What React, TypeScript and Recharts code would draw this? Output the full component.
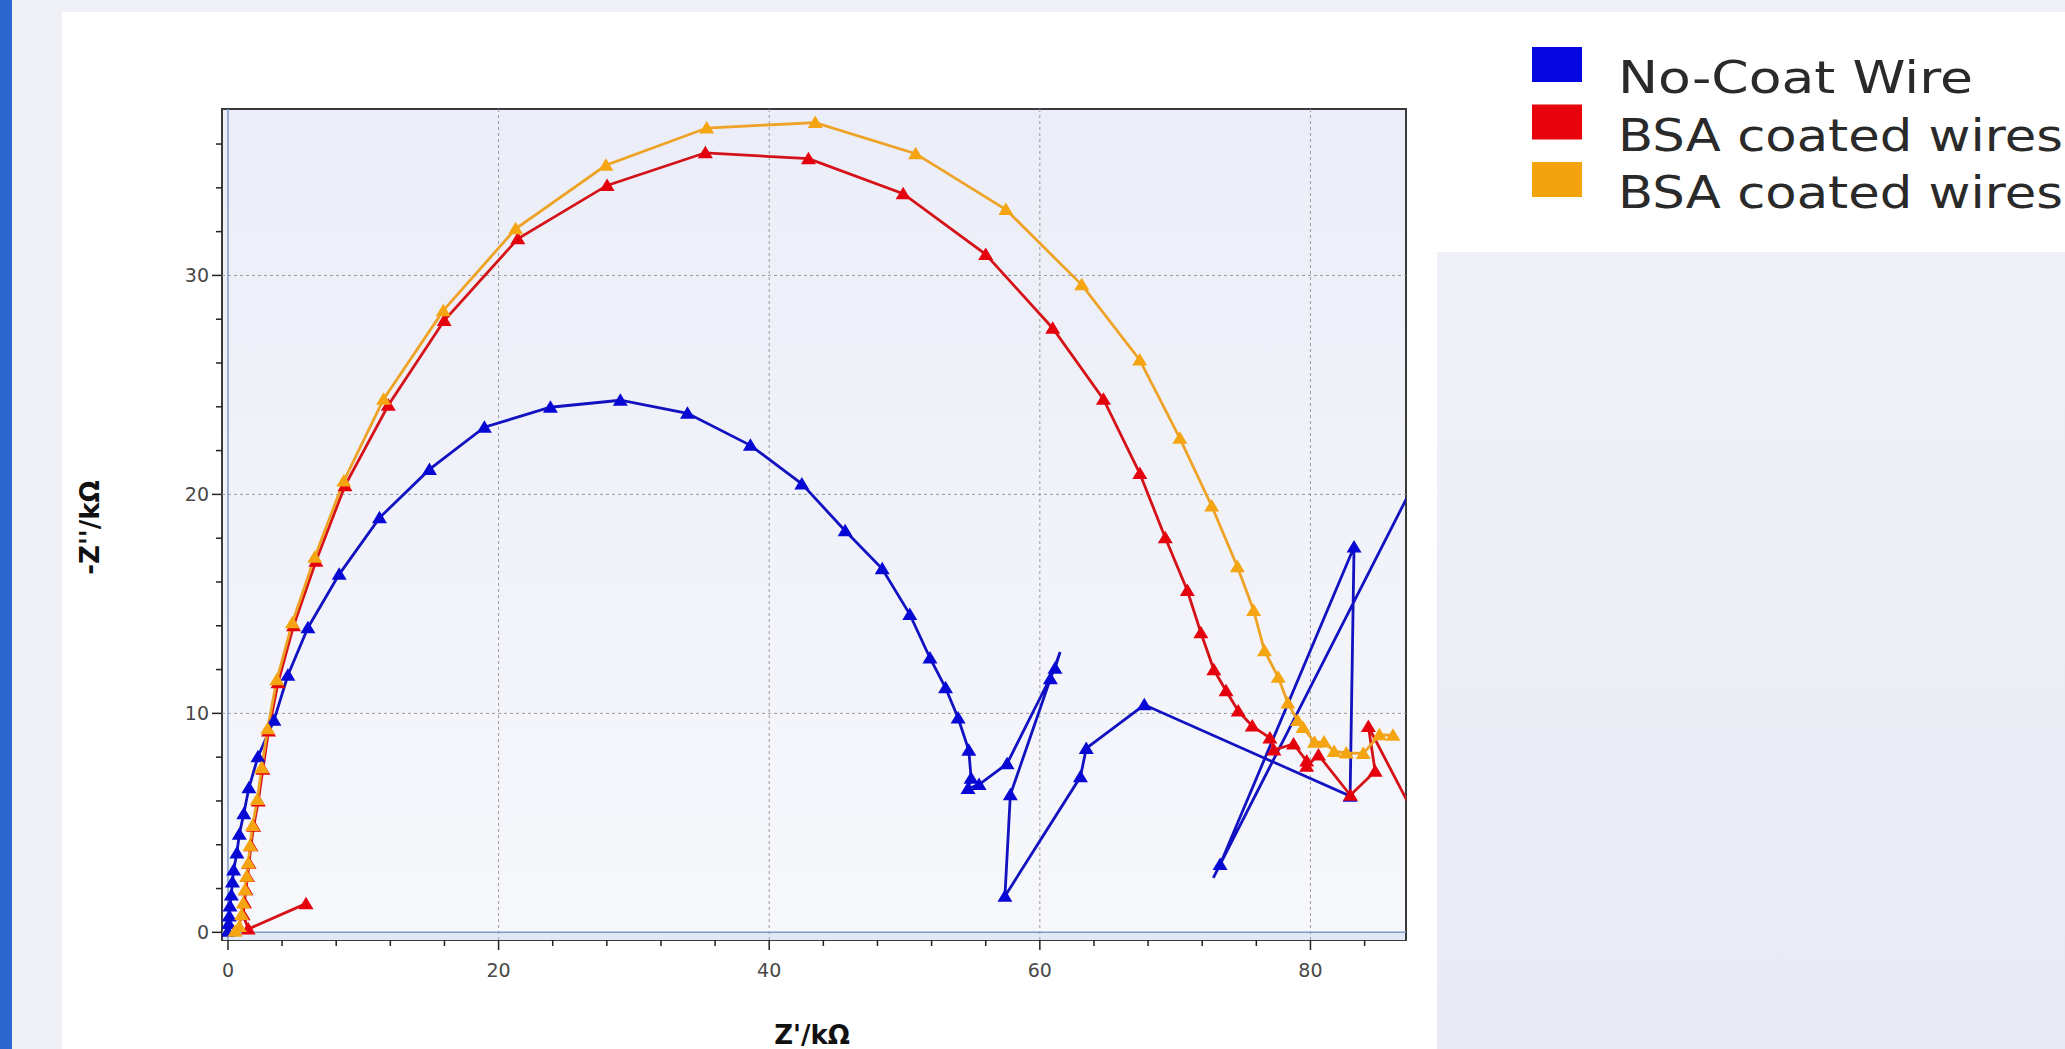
import { LineChart, Line, XAxis, YAxis, ReferenceLine, Legend, Label } from "recharts";

// Nyquist data, Z' / kΩ vs -Z'' / kΩ
const noCoatWire: [number, number][] = [
  [0.0, 0.05], [0.05, 0.4], [0.1, 0.75], [0.15, 1.2], [0.25, 1.7], [0.33, 2.3], [0.42, 2.85],
  [0.66, 3.62], [0.84, 4.48], [1.17, 5.42], [1.55, 6.6], [2.22, 8.02], [3.4, 9.68], [4.43, 11.74],
  [5.91, 13.91], [8.22, 16.35], [11.2, 18.93], [14.89, 21.14], [18.95, 23.07], [23.83, 23.98],
  [29.0, 24.3], [33.96, 23.7], [38.61, 22.24], [42.41, 20.48], [45.61, 18.34], [48.35, 16.6],
  [50.39, 14.52], [51.88, 12.53], [53.03, 11.17], [53.96, 9.79], [54.75, 8.31], [54.92, 7.04],
  [54.69, 6.57], [55.51, 6.75], [57.58, 7.7], [61.12, 12.06], [61.5, 12.8], [60.78, 11.58],
  [57.82, 6.28], [57.42, 1.65], [63.0, 7.1], [63.43, 8.4], [67.72, 10.39], [82.93, 6.22],
  [83.22, 17.6], [73.32, 3.1], [72.82, 2.49], [95.0, 29.4],
];
const noCoatNoMarker = [36, 46];

const bsaWires1: [number, number][] = [
  [5.77, 1.31], [1.5, 0.15], [1.12, 0.8], [1.22, 1.35], [1.33, 1.95], [1.44, 2.55], [1.56, 3.15],
  [1.7, 3.95], [1.9, 4.85], [2.24, 6.0], [2.58, 7.45], [3.0, 9.2], [3.7, 11.4], [4.85, 14.0],
  [6.5, 16.95], [8.65, 20.4], [11.85, 24.07], [15.98, 27.94], [21.42, 31.67], [28.02, 34.11],
  [35.28, 35.6], [42.9, 35.33], [49.9, 33.73], [56.0, 30.96], [60.95, 27.59], [64.7, 24.35],
  [67.39, 20.95], [69.27, 18.02], [70.9, 15.61], [71.9, 13.68], [72.86, 11.99], [73.76, 11.03],
  [74.66, 10.11], [75.7, 9.42], [77.0, 8.88], [77.3, 8.33], [78.75, 8.6], [79.72, 7.82],
  [79.72, 7.58], [80.59, 8.1], [82.95, 6.26], [84.78, 7.36], [84.28, 9.4], [89.5, 3.2],
];

const bsaWires2: [number, number][] = [
  [0.52, 0.05], [0.84, 0.27], [1.01, 0.81], [1.13, 1.34], [1.26, 1.95], [1.38, 2.56], [1.5, 3.17],
  [1.63, 3.96], [1.82, 4.88], [2.17, 6.07], [2.49, 7.52], [2.93, 9.3], [3.61, 11.53], [4.76, 14.14],
  [6.41, 17.13], [8.56, 20.61], [11.5, 24.35], [15.91, 28.39], [21.26, 32.13], [27.93, 35.03],
  [35.38, 36.73], [43.4, 36.98], [50.82, 35.56], [57.49, 33.01], [63.1, 29.57], [67.38, 26.14],
  [70.35, 22.56], [72.7, 19.47], [74.6, 16.7], [75.8, 14.7], [76.6, 12.86], [77.62, 11.65],
  [78.33, 10.47], [79.05, 9.67], [79.45, 9.36], [80.3, 8.68], [81.0, 8.69], [81.75, 8.26],
  [82.65, 8.19], [83.9, 8.17], [85.1, 9.02], [86.1, 9.0],
];

const xTicks = [0, 4, 8, 12, 16, 20, 24, 28, 32, 36, 40, 44, 48, 52, 56, 60, 64, 68, 72, 76, 80, 84];
const yTicks = [0, 2, 4, 6, 8, 10, 12, 14, 16, 18, 20, 22, 24, 26, 28, 30, 32, 34, 36];
const xGrid = [20, 40, 60, 80];
const yGrid = [10, 20, 30];

const seriesNames = ["No-Coat Wire", "BSA coated wires", "BSA coated wires"];

const series = [
  { key: "noCoat", data: noCoatWire, hidden: noCoatNoMarker, line: "#1212c0", marker: "#0808d4", swatch: "#0606e0", textLen: 355 },
  { key: "bsa1", data: bsaWires1, hidden: [] as number[], line: "#d41218", marker: "#e4000c", swatch: "#e8020c", textLen: 445 },
  { key: "bsa2", data: bsaWires2, hidden: [] as number[], line: "#eea326", marker: "#f4a511", swatch: "#f2a30d", textLen: 445 },
];

const FONT = "DejaVu Sans";

function triangleDot(color: string, hidden: number[]) {
  return (props: any) => {
    const { cx, cy, index } = props;
    if (cx == null || cy == null || hidden.includes(index)) return <g key={`h-${index}`} />;
    return (
      <path
        key={`t-${index}`}
        d={`M${cx},${cy - 7}L${cx + 7.5},${cy + 5.5}L${cx - 7.5},${cy + 5.5}Z`}
        fill={color}
      />
    );
  };
}

function XTick(props: any) {
  const { x, y, payload } = props;
  const major = payload.value % 20 === 0;
  return (
    <g>
      <line x1={x} x2={x} y1={y} y2={y + (major ? 10 : 6)} stroke="#222" strokeWidth={1.5} />
      {major && (
        <text x={x} y={y + 37} textAnchor="middle" fontSize={19} fill="#484848" fontFamily={FONT}>
          {payload.value}
        </text>
      )}
    </g>
  );
}

function YTick(props: any) {
  const { x, y, payload } = props;
  const major = payload.value % 10 === 0;
  return (
    <g>
      <line x1={x - (major ? 10 : 6)} x2={x} y1={y} y2={y} stroke="#222" strokeWidth={1.5} />
      {major && (
        <text x={x - 13} y={y} dy="0.36em" textAnchor="end" fontSize={19} fill="#484848" fontFamily={FONT}>
          {payload.value}
        </text>
      )}
    </g>
  );
}

function LegendBox() {
  return (
    <svg width={565} height={200} style={{ display: "block" }}>
      {series.map((s, i) => (
        <g key={s.key}>
          <rect x={32} y={17 + i * 57.5} width={50} height={35} fill={s.swatch} />
          <text
            x={118}
            y={63 + i * 57.5}
            fontSize={44}
            fill="#2a2a2a"
            fontFamily={FONT}
            textLength={s.textLen}
            lengthAdjust="spacingAndGlyphs"
          >
            {seriesNames[i]}
          </text>
        </g>
      ))}
    </svg>
  );
}

export default function App() {
  return (
    <div
      style={{
        position: "absolute",
        left: 0,
        top: 0,
        width: 2065,
        height: 1049,
        overflow: "hidden",
        background: "#eef0f6",
        fontFamily: FONT,
      }}
    >
      <div style={{ position: "absolute", left: 0, top: 0, width: 12, height: 1049, background: "#2c66cf" }} />
      <div style={{ position: "absolute", left: 62, top: 12, width: 1375, height: 1037, background: "#ffffff" }} />
      <div style={{ position: "absolute", left: 1437, top: 12, width: 628, height: 240, background: "#ffffff" }} />
      <div
        style={{
          position: "absolute",
          left: 1437,
          top: 252,
          width: 628,
          height: 797,
          background: "linear-gradient(#eff1f7, #e8ebf5)",
        }}
      />
      <div
        style={{
          position: "absolute",
          left: 221,
          top: 108,
          width: 1186,
          height: 833,
          boxSizing: "border-box",
          border: "2px solid #3a3a3a",
          background: "linear-gradient(#ebedf8, #f7f8fc)",
        }}
      />
      <div style={{ position: "absolute", left: 223, top: 933, width: 1182, height: 7, background: "#e2e9f6" }} />
      <LineChart width={2065} height={1049} margin={{ top: 109, right: 659, bottom: 0, left: 0 }}>
        <XAxis
          type="number"
          dataKey="x"
          domain={[-0.44, 87.06]}
          allowDataOverflow
          ticks={xTicks}
          interval={0}
          axisLine={false}
          tickLine={false}
          tickSize={0}
          tickMargin={0}
          height={109}
          tick={<XTick />}
        >
          <Label
            content={(p: any) => {
              const vb = p.viewBox ?? { x: 222, y: 940, width: 1184, height: 109 };
              return (
                <text
                  x={vb.x + vb.width / 2 - 2}
                  y={vb.y + 104}
                  textAnchor="middle"
                  fontSize={26}
                  fontWeight="bold"
                  fill="#111"
                  fontFamily={FONT}
                >
                  Z'/kΩ
                </text>
              );
            }}
          />
        </XAxis>
        <YAxis
          type="number"
          dataKey="y"
          domain={[-0.35, 37.6]}
          allowDataOverflow
          ticks={yTicks}
          interval={0}
          axisLine={false}
          tickLine={false}
          tickSize={0}
          tickMargin={0}
          width={222}
          tick={<YTick />}
        >
          <Label
            content={(p: any) => {
              const vb = p.viewBox ?? { x: 0, y: 109, width: 222, height: 831 };
              const cy = vb.y + vb.height / 2 + 3;
              return (
                <text
                  x={99}
                  y={cy}
                  transform={`rotate(-90, 99, ${cy})`}
                  textAnchor="middle"
                  fontSize={26}
                  fontWeight="bold"
                  fill="#111"
                  fontFamily={FONT}
                >
                  -Z''/kΩ
                </text>
              );
            }}
          />
        </YAxis>
        {xGrid.map((v) => (
          <ReferenceLine key={`gx-${v}`} x={v} stroke="#9c9c9c" strokeDasharray="3 3" strokeWidth={1} />
        ))}
        {yGrid.map((v) => (
          <ReferenceLine key={`gy-${v}`} y={v} stroke="#9c9c9c" strokeDasharray="3 3" strokeWidth={1} />
        ))}
        <ReferenceLine x={0} stroke="#7f9ac4" strokeWidth={1.5} />
        <ReferenceLine y={0} stroke="#7f9ac4" strokeWidth={1.5} />
        {series.map((s, i) => (
          <Line
            key={s.key}
            name={seriesNames[i]}
            data={s.data.map(([x, y]) => ({ x, y }))}
            dataKey="y"
            type="linear"
            stroke={s.line}
            strokeWidth={2.8}
            dot={triangleDot(s.marker, s.hidden)}
            activeDot={false}
            isAnimationActive={false}
          />
        ))}
        <Legend
          layout="vertical"
          align="center"
          verticalAlign="middle"
          content={() => <LegendBox />}
          wrapperStyle={{ left: 1500, top: 30, width: 565, height: 200 }}
        />
      </LineChart>
    </div>
  );
}
